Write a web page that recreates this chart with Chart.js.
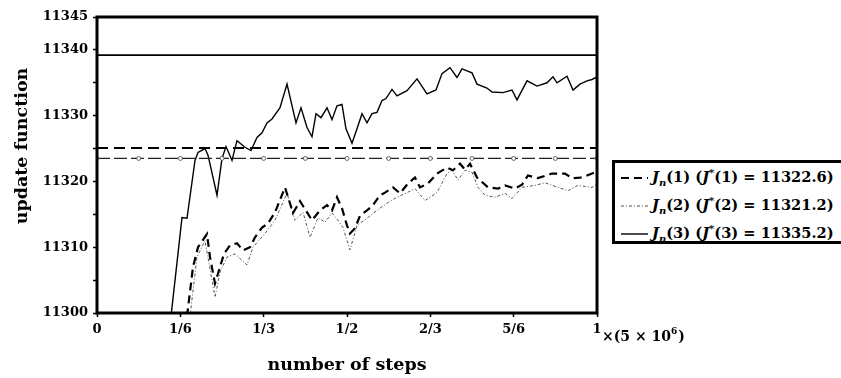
<!DOCTYPE html>
<html lang="en">
  <head>
    <meta charset="UTF-8" />
    <title>update function vs number of steps</title>
    <script src="https://cdn.jsdelivr.net/npm/chart.js"></script>
    <style>
      body { margin: 0; background: #fff; }
      #wrap { position: relative; width: 841px; height: 378px; overflow: hidden; }
      #legend {
        position: absolute; left: 612px; top: 160px; width: 270px; height: 78px;
        border: 3px solid #000; background: #fff;
        font: bold 14.6px "DejaVu Serif", serif; color: #000;
      }
      #legend .row { position: absolute; left: 6px; height: 20px; white-space: nowrap; }
      #legend svg { vertical-align: middle; margin-right: 4px; }
      #legend sub, #legend sup { font-size: 10px; line-height: 0; }
    </style>
  </head>
  <body>
    <div id="wrap">
      <canvas id="lineChart" width="841" height="378"></canvas>
      <div id="legend"></div>
    </div>
    <script>
      // steps are fractions of 5 x 10^6
      const xTickValues = [0, 1 / 6, 1 / 3, 1 / 2, 2 / 3, 5 / 6, 1];
      const xTickLabels = ["0", "1/6", "1/3", "1/2", "2/3", "5/6", "1"];
      const yLabelled = [11345, 11340, 11330, 11320, 11310, 11300];

      // J_n(1), dashed
      const steps1 = [0.180, 0.192, 0.202, 0.220, 0.226, 0.236, 0.246, 0.254, 0.266, 0.280, 0.292, 0.306, 0.316, 0.330, 0.342, 0.356, 0.376, 0.392, 0.406, 0.430, 0.446, 0.460, 0.470, 0.480, 0.490, 0.500, 0.506, 0.516, 0.526, 0.540, 0.552, 0.566, 0.576, 0.592, 0.606, 0.622, 0.636, 0.646, 0.662, 0.680, 0.700, 0.712, 0.726, 0.736, 0.746, 0.760, 0.782, 0.802, 0.816, 0.836, 0.850, 0.862, 0.882, 0.910, 0.936, 0.950, 0.970, 0.990, 1.000];
      const jn1 = [11299.5, 11307.0, 11310.0, 11312.0, 11308.5, 11304.5, 11307.0, 11309.0, 11310.3, 11310.6, 11309.5, 11310.0, 11311.5, 11313.0, 11313.6, 11315.3, 11319.1, 11315.2, 11317.0, 11314.1, 11315.6, 11316.4, 11315.6, 11317.6, 11315.9, 11313.3, 11312.1, 11312.9, 11314.8, 11315.6, 11316.4, 11317.9, 11318.3, 11319.1, 11318.2, 11319.7, 11320.6, 11319.1, 11319.7, 11321.2, 11322.1, 11321.7, 11322.7, 11321.8, 11322.7, 11320.6, 11319.1, 11318.9, 11319.4, 11318.9, 11319.5, 11320.9, 11320.5, 11321.2, 11321.2, 11320.5, 11320.6, 11321.2, 11321.5];

      // J_n(2), dotted grey
      const steps2 = [0.186, 0.200, 0.216, 0.236, 0.246, 0.260, 0.276, 0.300, 0.312, 0.336, 0.356, 0.380, 0.396, 0.412, 0.426, 0.442, 0.456, 0.470, 0.482, 0.492, 0.506, 0.520, 0.540, 0.560, 0.580, 0.600, 0.620, 0.636, 0.656, 0.680, 0.700, 0.710, 0.722, 0.736, 0.750, 0.762, 0.776, 0.796, 0.816, 0.830, 0.850, 0.876, 0.896, 0.922, 0.942, 0.962, 0.990, 1.000];
      const jn2 = [11299.5, 11308.5, 11311.0, 11302.4, 11306.2, 11308.5, 11309.0, 11307.3, 11310.0, 11312.1, 11314.1, 11318.2, 11314.1, 11315.3, 11311.5, 11314.5, 11313.8, 11315.2, 11314.1, 11313.0, 11309.6, 11313.3, 11314.4, 11315.6, 11316.7, 11317.6, 11318.3, 11318.9, 11317.1, 11318.3, 11321.2, 11321.7, 11320.2, 11321.7, 11321.4, 11319.1, 11317.9, 11317.6, 11318.2, 11317.4, 11319.1, 11319.4, 11319.8, 11319.1, 11318.6, 11319.4, 11319.1, 11319.6];

      // J_n(3), solid
      const steps3 = [0.148, 0.170, 0.180, 0.196, 0.202, 0.216, 0.222, 0.240, 0.250, 0.258, 0.270, 0.280, 0.296, 0.308, 0.320, 0.330, 0.340, 0.350, 0.366, 0.380, 0.398, 0.408, 0.420, 0.430, 0.438, 0.448, 0.460, 0.470, 0.480, 0.490, 0.498, 0.510, 0.520, 0.530, 0.540, 0.550, 0.560, 0.570, 0.578, 0.590, 0.600, 0.620, 0.640, 0.660, 0.678, 0.690, 0.706, 0.720, 0.730, 0.750, 0.760, 0.780, 0.790, 0.812, 0.830, 0.840, 0.860, 0.880, 0.900, 0.912, 0.920, 0.940, 0.952, 0.966, 0.980, 0.990, 1.000];
      const jn3 = [11299.5, 11314.5, 11314.4, 11323.2, 11324.4, 11325.0, 11324.0, 11317.9, 11323.5, 11325.3, 11323.2, 11326.2, 11325.2, 11324.7, 11326.7, 11327.4, 11328.9, 11329.5, 11331.2, 11334.8, 11328.9, 11331.2, 11328.2, 11326.8, 11330.3, 11329.7, 11331.2, 11329.4, 11331.5, 11331.7, 11328.0, 11325.8, 11328.0, 11330.3, 11328.9, 11330.3, 11330.5, 11332.3, 11332.6, 11334.0, 11333.0, 11333.8, 11335.6, 11333.3, 11333.9, 11336.4, 11337.3, 11335.8, 11337.1, 11336.5, 11334.8, 11334.2, 11333.6, 11333.5, 11333.9, 11332.4, 11335.3, 11334.5, 11335.0, 11335.9, 11335.0, 11336.0, 11333.9, 11334.8, 11335.3, 11335.5, 11335.9];

      // horizontal reference levels as drawn in the plot, and values printed in the legend
      const refLevels = [11325.1, 11323.5, 11339.2];
      const legendValues = ["11322.6", "11321.2", "11335.2"];
      const refMarkSteps = [0, 1 / 12, 2 / 12, 3 / 12, 4 / 12, 5 / 12, 6 / 12, 7 / 12, 8 / 12, 9 / 12, 10 / 12, 11 / 12, 1];

      const styles = [
        { color: "#000", width: 2.2, dash: [8, 5] },
        { color: "#555", width: 1, dash: [3, 2, 1, 2] },
        { color: "#000", width: 1.4, dash: [] },
      ];
      const refStyles = [
        { color: "#000", width: 2, dash: [11, 6], radius: 0 },
        { color: "#222", width: 1.4, dash: [13, 4], radius: 2 },
        { color: "#000", width: 1.6, dash: [], radius: 0 },
      ];

      const toPoints = (xs, ys) => xs.map((x, i) => ({ x: x, y: ys[i] }));
      const series = [toPoints(steps1, jn1), toPoints(steps2, jn2), toPoints(steps3, jn3)];

      const datasets = [];
      refLevels.forEach((lvl, i) => {
        const s = refStyles[i];
        datasets.push({
          data: refMarkSteps.map((x) => ({ x: x, y: lvl })),
          borderColor: s.color,
          borderWidth: s.width,
          borderDash: s.dash,
          pointRadius: s.radius,
          pointBackgroundColor: "#fff",
          pointBorderColor: "#444",
          pointBorderWidth: 0.8,
        });
      });
      series.forEach((pts, i) => {
        const s = styles[i];
        datasets.push({
          data: pts,
          borderColor: s.color,
          borderWidth: s.width,
          borderDash: s.dash,
          pointRadius: 0,
          tension: 0,
        });
      });

      const serifBold = "'DejaVu Serif', serif";

      const extras = {
        id: "extras",
        afterDatasetsDraw(chart) {
          const { ctx, chartArea: a } = chart;
          ctx.save();
          ctx.strokeStyle = "#000";
          ctx.lineWidth = 3;
          ctx.strokeRect(a.left, a.top, a.right - a.left, a.bottom - a.top);
          ctx.restore();
        },
        afterDraw(chart) {
          const { ctx, chartArea: a } = chart;
          ctx.save();
          ctx.fillStyle = "#000";
          // y axis title
          ctx.translate(22, 146);
          ctx.rotate(-Math.PI / 2);
          ctx.font = "bold 17.5px " + serifBold;
          ctx.textAlign = "center";
          ctx.textBaseline = "middle";
          ctx.fillText("update function", 0, 0);
          ctx.restore();

          // unit note next to the last x tick
          ctx.save();
          ctx.fillStyle = "#000";
          ctx.font = "bold 14px " + serifBold;
          ctx.textBaseline = "alphabetic";
          let x = a.right + 5;
          const base = 341;
          const part1 = "\u00d7(5 \u00d7 10";
          ctx.fillText(part1, x, base);
          x += ctx.measureText(part1).width;
          ctx.font = "bold 9px " + serifBold;
          ctx.fillText("6", x, base - 7);
          x += ctx.measureText("6").width + 1;
          ctx.font = "bold 14px " + serifBold;
          ctx.fillText(")", x, base);
          ctx.restore();
        },
      };

      const ctx = document.getElementById("lineChart").getContext("2d");
      new Chart(ctx, {
        type: "line",
        data: { datasets: datasets },
        options: {
          responsive: false,
          animation: false,
          layout: { padding: { top: 17, right: 244, left: 0, bottom: 0 } },
          plugins: { legend: { display: false }, tooltip: { enabled: false } },
          scales: {
            x: {
              type: "linear",
              min: 0,
              max: 1,
              afterBuildTicks: (scale) => {
                scale.ticks = xTickValues.map((v) => ({ value: v }));
              },
              afterFit: (scale) => {
                scale.height = 65;
              },
              ticks: {
                color: "#000",
                font: { family: serifBold, size: 13, weight: "bold" },
                padding: 5,
                maxRotation: 0,
                callback: (v, i) => xTickLabels[i],
              },
              grid: { drawOnChartArea: false, color: "#000", tickLength: 4, tickWidth: 1.5 },
              border: { display: false },
              title: {
                display: true,
                text: "number of steps",
                color: "#000",
                font: { family: serifBold, size: 17.5, weight: "bold" },
                padding: { top: 0, bottom: 2 },
              },
            },
            y: {
              min: 11300,
              max: 11345,
              afterFit: (scale) => {
                scale.width = 97;
              },
              ticks: {
                stepSize: 5,
                color: "#000",
                font: { family: serifBold, size: 13, weight: "bold" },
                padding: 5,
                callback: (v) => (yLabelled.includes(v) ? String(v) : ""),
              },
              grid: { drawOnChartArea: false, color: "#000", tickLength: 4, tickWidth: 1.5 },
              border: { display: false },
            },
          },
        },
        plugins: [extras],
      });

      // legend, built from the same style arrays
      const legend = document.getElementById("legend");
      styles.forEach((s, i) => {
        const row = document.createElement("div");
        row.className = "row";
        row.style.top = 5 + i * 28 + "px";
        const n = i + 1;
        row.innerHTML =
          '<svg width="27" height="10"><line x1="0" y1="5" x2="27" y2="5" stroke="' + s.color +
          '" stroke-width="' + Math.max(s.width, 1.2) + '" stroke-dasharray="' + s.dash.join(" ") + '"/></svg>' +
          "<i>J</i><sub><i>n</i></sub>(" + n + ") (<i>J</i><sup>*</sup>(" + n + ") = " + legendValues[i] + ")";
        legend.appendChild(row);
      });
    </script>
  </body>
</html>
